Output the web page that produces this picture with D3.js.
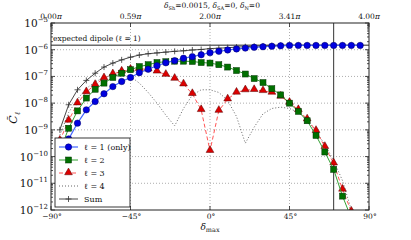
<!DOCTYPE html>
<html>
<head>
<meta charset="utf-8">
<script src="https://cdn.jsdelivr.net/npm/d3@7"></script>
<style>
  body { margin: 0; background: #fff; }
  svg { display: block; font-family: "DejaVu Serif", "Liberation Serif", serif; }
</style>
</head>
<body>
<svg id="chart" width="411" height="240"></svg>
<script>
// latitude grid (degrees)
var deltaMax = [-85,-80,-75,-70,-65,-60,-55,-50,-45,-40,-35,-30,-25,-20,-15,-10,-5,0,5,10,15,20,25,30,35,40,45,50,55,60,65,70,75,80,85];

var l1 = [4.0e-11,4.57e-10,1.78e-9,5.62e-9,1.15e-8,2.24e-8,4.17e-8,6.46e-8,9.12e-8,1.38e-7,1.86e-7,2.51e-7,3.24e-7,3.89e-7,4.79e-7,5.50e-7,6.46e-7,7.76e-7,8.71e-7,9.77e-7,1.07e-6,1.15e-6,1.23e-6,1.29e-6,1.35e-6,1.40e-6,1.45e-6,1.45e-6,1.45e-6,1.45e-6,1.45e-6,1.45e-6,1.45e-6,1.45e-6,1.45e-6];
var l2 = [1.58e-10,1.15e-9,5.13e-9,1.55e-8,3.31e-8,5.62e-8,9.12e-8,1.32e-7,1.78e-7,2.34e-7,2.75e-7,3.31e-7,3.55e-7,3.72e-7,3.72e-7,3.63e-7,3.31e-7,3.16e-7,2.75e-7,2.24e-7,1.66e-7,1.23e-7,8.32e-8,5.89e-8,3.47e-8,2.04e-8,1.0e-8,4.90e-9,2.19e-9,6.17e-10,1.48e-10,3.31e-11,3.31e-12,5.0e-13,8.0e-14];
var l3 = [3.98e-10,2.24e-9,1.0e-8,2.63e-8,4.90e-8,8.71e-8,1.23e-7,1.55e-7,1.82e-7,1.91e-7,1.86e-7,1.55e-7,1.17e-7,8.32e-8,5.13e-8,2.24e-8,5.62e-9,1.66e-10,5.25e-9,1.41e-8,2.51e-8,3.09e-8,3.16e-8,2.88e-8,2.51e-8,1.78e-8,1.05e-8,5.62e-9,2.51e-9,9.33e-10,2.34e-10,5.62e-11,5.89e-12,8.9e-13,1.2e-13];
var l4 = [6.31e-10,4.47e-9,1.41e-8,3.55e-8,6.31e-8,8.91e-8,1.12e-7,1.12e-7,1.0e-7,5.62e-8,2.51e-8,1.0e-8,3.55e-9,1.41e-9,6.31e-9,2.0e-8,3.16e-8,3.16e-8,2.51e-8,1.26e-8,3.16e-9,3.16e-10,1.26e-9,3.98e-9,6.31e-9,7.08e-9,6.31e-9,4.47e-9,2.24e-9,8.91e-10,2.82e-10,7.08e-11,1.26e-11,1.0e-12,1.0e-13];
var sumAll = [1.0e-9,8.71e-9,3.16e-8,7.08e-8,1.32e-7,2.24e-7,3.16e-7,4.17e-7,5.25e-7,6.31e-7,7.08e-7,7.59e-7,8.13e-7,8.71e-7,9.12e-7,9.77e-7,1.02e-6,1.10e-6,1.14e-6,1.19e-6,1.25e-6,1.30e-6,1.35e-6,1.38e-6,1.41e-6,1.44e-6,1.47e-6,1.46e-6,1.45e-6,1.45e-6,1.45e-6,1.45e-6,1.45e-6,1.45e-6,1.45e-6];

var expectedDipole = 1.48e-6;
var cutLatitude = 70;

var xTicks = [-90,-45,0,45,90];
var xTickLabels = ['\u221290\u00b0','\u221245\u00b0','0\u00b0','45\u00b0','90\u00b0'];
var topTickLabels = ['0.00','0.59','2.00','3.41','4.00'];
var yExps = [-12,-11,-10,-9,-8,-7,-6,-5];

var legendLabels = ['\u2113 = 1 (only)','\u2113 = 2','\u2113 = 3','\u2113 = 4','Sum'];

// plot box (note: "top" is taken by window.top)
var pLeft = 51, pRight = 369, pTop = 23, pBottom = 210;
var svg = d3.select('#chart');

var x = d3.scaleLinear().domain([-90, 90]).range([pLeft, pRight]);
var y = d3.scaleLog().domain([1e-12, 1e-5]).range([pBottom, pTop]);

// grid
var grid = svg.append('g');
grid.selectAll('.gy')
    .data(yExps.slice(1, -1))
    .enter().append('line')
    .attr('x1', pLeft).attr('x2', pRight)
    .attr('y1', function(e) { return y(Math.pow(10, e)); })
    .attr('y2', function(e) { return y(Math.pow(10, e)); })
    .attr('stroke', '#999').attr('stroke-width', 0.8).attr('stroke-dasharray', '1,2');
grid.selectAll('.gx')
    .data(xTicks.slice(1, -1))
    .enter().append('line')
    .attr('y1', pTop).attr('y2', pBottom)
    .attr('x1', function(d) { return x(d); })
    .attr('x2', function(d) { return x(d); })
    .attr('stroke', '#999').attr('stroke-width', 0.8).attr('stroke-dasharray', '1,2');

svg.append('clipPath').attr('id', 'clip')
    .append('rect').attr('x', pLeft).attr('y', pTop).attr('width', pRight - pLeft).attr('height', pBottom - pTop);

var plot = svg.append('g').attr('clip-path', 'url(#clip)');

// reference lines
plot.append('line')
    .attr('x1', pLeft).attr('x2', pRight)
    .attr('y1', y(expectedDipole)).attr('y2', y(expectedDipole))
    .attr('stroke', '#222').attr('stroke-width', 1);
plot.append('line')
    .attr('x1', x(cutLatitude)).attr('x2', x(cutLatitude))
    .attr('y1', pTop).attr('y2', pBottom)
    .attr('stroke', '#333').attr('stroke-width', 1);

function pts(vals) {
  return deltaMax.map(function(d, i) { return [d, vals[i]]; });
}
var line = d3.line()
    .x(function(d) { return x(d[0]); })
    .y(function(d) { return y(d[1]); });

// l = 4 (dotted, no markers)
plot.append('path').datum(pts(l4))
    .attr('d', line).attr('fill', 'none')
    .attr('stroke', '#666').attr('stroke-width', 1).attr('stroke-dasharray', '1,2');

// l = 3
plot.append('path').datum(pts(l3))
    .attr('d', line).attr('fill', 'none')
    .attr('stroke', '#ff5555').attr('stroke-width', 1).attr('stroke-dasharray', '4,2.5');
plot.selectAll('.tri').data(pts(l3)).enter().append('path')
    .attr('d', d3.symbol().type(d3.symbolTriangle).size(26))
    .attr('transform', function(d) { return 'translate(' + x(d[0]) + ',' + (y(d[1]) - 0.5) + ')'; })
    .attr('fill', '#dd0000').attr('stroke', '#550000').attr('stroke-width', 0.5);

// l = 2
plot.append('path').datum(pts(l2))
    .attr('d', line).attr('fill', 'none')
    .attr('stroke', '#33a033').attr('stroke-width', 1);
plot.selectAll('.sq').data(pts(l2)).enter().append('rect')
    .attr('x', function(d) { return x(d[0]) - 3; })
    .attr('y', function(d) { return y(d[1]) - 3; })
    .attr('width', 6).attr('height', 6)
    .attr('fill', '#007000').attr('stroke', '#003000').attr('stroke-width', 0.5);

// sum
plot.append('path').datum(pts(sumAll))
    .attr('d', line).attr('fill', 'none')
    .attr('stroke', '#333').attr('stroke-width', 0.9);
plot.selectAll('.plus').data(pts(sumAll)).enter().append('path')
    .attr('d', 'M-3,0H3M0,-3V3')
    .attr('transform', function(d) { return 'translate(' + x(d[0]) + ',' + y(d[1]) + ')'; })
    .attr('stroke', '#333').attr('stroke-width', 0.8);

// l = 1
plot.append('path').datum(pts(l1))
    .attr('d', line).attr('fill', 'none')
    .attr('stroke', '#4466ff').attr('stroke-width', 1.2);
plot.selectAll('.dot').data(pts(l1)).enter().append('circle')
    .attr('cx', function(d) { return x(d[0]); })
    .attr('cy', function(d) { return y(d[1]); })
    .attr('r', 3.2)
    .attr('fill', '#0000e0').attr('stroke', '#000060').attr('stroke-width', 0.5);

svg.append('text')
    .attr('x', pLeft + 2).attr('y', y(expectedDipole) - 4)
    .attr('font-size', 7.5).attr('fill', '#111')
    .text('expected dipole (\u2113 = 1)');

// frame
svg.append('rect')
    .attr('x', pLeft).attr('y', pTop).attr('width', pRight - pLeft).attr('height', pBottom - pTop)
    .attr('fill', 'none').attr('stroke', '#222').attr('stroke-width', 1);

// ticks
var ticks = svg.append('g').attr('stroke', '#222').attr('stroke-width', 0.8);
yExps.forEach(function(e) {
  var yy = y(Math.pow(10, e));
  ticks.append('line').attr('x1', pLeft).attr('x2', pLeft + 4).attr('y1', yy).attr('y2', yy);
  ticks.append('line').attr('x1', pRight).attr('x2', pRight - 4).attr('y1', yy).attr('y2', yy);
  if (e < -5) {
    for (var m = 2; m < 10; m++) {
      var ym = y(m * Math.pow(10, e));
      ticks.append('line').attr('x1', pLeft).attr('x2', pLeft + 2).attr('y1', ym).attr('y2', ym);
      ticks.append('line').attr('x1', pRight).attr('x2', pRight - 2).attr('y1', ym).attr('y2', ym);
    }
  }
});
xTicks.forEach(function(d) {
  ticks.append('line').attr('x1', x(d)).attr('x2', x(d)).attr('y1', pBottom).attr('y2', pBottom - 4);
  ticks.append('line').attr('x1', x(d)).attr('x2', x(d)).attr('y1', pTop).attr('y2', pTop + 4);
});

// y labels
var yl = svg.append('g').attr('font-size', 10.5).attr('fill', '#111');
yExps.forEach(function(e) {
  var t = yl.append('text')
      .attr('x', 48).attr('y', y(Math.pow(10, e)) + 4)
      .attr('text-anchor', 'end');
  t.append('tspan').text('10');
  t.append('tspan').attr('dy', -5).attr('font-size', 7).text('\u2212' + (-e));
});

// bottom x labels
svg.append('g').selectAll('text').data(xTicks).enter().append('text')
    .attr('x', function(d) { return x(d) + 1; })
    .attr('y', 219)
    .attr('text-anchor', 'middle').attr('font-size', 7.5).attr('fill', '#111')
    .text(function(d, i) { return xTickLabels[i]; });

// top labels
svg.append('g').selectAll('text').data(xTicks).enter().append('text')
    .attr('x', function(d) { return x(d); })
    .attr('y', 19)
    .attr('text-anchor', 'middle').attr('font-size', 7.5).attr('fill', '#111')
    .each(function(d, i) {
      d3.select(this).append('tspan').text(topTickLabels[i]);
      d3.select(this).append('tspan').attr('font-style', 'italic').text('\u03c0');
    });

// title
var title = svg.append('text')
    .attr('x', 212).attr('y', 8)
    .attr('text-anchor', 'middle').attr('font-size', 7.5).attr('fill', '#111');
[['Sh', '=0.0015, '], ['SA', '=0, '], ['N', '=0']].forEach(function(p) {
  title.append('tspan').attr('font-style', 'italic').text('\u03b4');
  title.append('tspan').attr('font-size', 5).attr('dy', 1.5).text(p[0]);
  title.append('tspan').attr('dy', -1.5).text(p[1]);
});

// axis labels
var xl = svg.append('text').attr('x', 210).attr('y', 230)
    .attr('text-anchor', 'middle').attr('font-size', 9).attr('fill', '#111');
xl.append('tspan').attr('font-style', 'italic').text('\u03b4');
xl.append('tspan').attr('font-size', 6.5).attr('dy', 2).text('max');

var ylab = svg.append('text')
    .attr('transform', 'translate(17,118) rotate(-90)')
    .attr('text-anchor', 'middle').attr('font-size', 11).attr('fill', '#111');
ylab.append('tspan').attr('font-style', 'italic').text('C\u0303');
ylab.append('tspan').attr('font-size', 7.5).attr('font-style', 'italic').attr('dy', 2.5).text('\u2113');

// legend
var lg = svg.append('g');
lg.append('rect')
    .attr('x', 55).attr('y', 138).attr('width', 75).attr('height', 69)
    .attr('fill', '#fff').attr('stroke', '#222').attr('stroke-width', 0.9);
var legendY = d3.scalePoint().domain(legendLabels).range([147, 199]);
var styles = [
  { stroke: '#4466ff', dash: null, w: 1.2 },
  { stroke: '#33a033', dash: null, w: 1 },
  { stroke: '#ff5555', dash: '4,2.5', w: 1 },
  { stroke: '#666', dash: '1,2', w: 1 },
  { stroke: '#333', dash: null, w: 0.9 }
];
legendLabels.forEach(function(lab, i) {
  var yy = legendY(lab);
  lg.append('line').attr('x1', 59).attr('x2', 78).attr('y1', yy).attr('y2', yy)
      .attr('stroke', styles[i].stroke).attr('stroke-width', styles[i].w)
      .attr('stroke-dasharray', styles[i].dash);
  if (i === 0) {
    lg.append('circle').attr('cx', 68.5).attr('cy', yy).attr('r', 3.2)
        .attr('fill', '#0000e0').attr('stroke', '#000060').attr('stroke-width', 0.5);
  } else if (i === 1) {
    lg.append('rect').attr('x', 65.5).attr('y', yy - 3).attr('width', 6).attr('height', 6)
        .attr('fill', '#007000').attr('stroke', '#003000').attr('stroke-width', 0.5);
  } else if (i === 2) {
    lg.append('path').attr('d', d3.symbol().type(d3.symbolTriangle).size(26))
        .attr('transform', 'translate(68.5,' + (yy - 0.5) + ')')
        .attr('fill', '#dd0000').attr('stroke', '#550000').attr('stroke-width', 0.5);
  } else if (i === 4) {
    lg.append('path').attr('d', 'M-3,0H3M0,-3V3')
        .attr('transform', 'translate(68.5,' + yy + ')')
        .attr('stroke', '#333').attr('stroke-width', 0.8);
  }
  lg.append('text').attr('x', 84).attr('y', yy + 3)
      .attr('font-size', 8).attr('fill', '#111').text(lab);
});
</script>
</body>
</html>
